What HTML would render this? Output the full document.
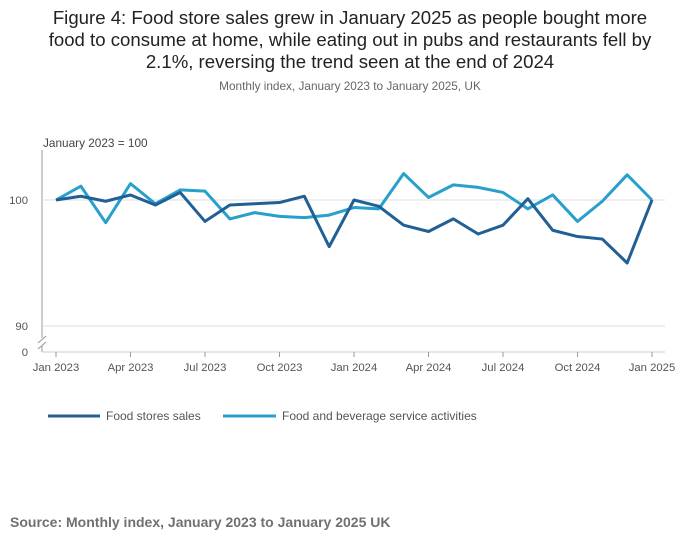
<!DOCTYPE html>
<html><head><meta charset="utf-8"><style>
body{margin:0;background:#fff;font-family:"Liberation Sans",sans-serif;}
svg text{font-family:"Liberation Sans",sans-serif;}
</style></head><body>
<svg id="c" width="700" height="549">
<text x="350" y="24" text-anchor="middle" font-size="18.6" fill="#222">Figure 4: Food store sales grew in January 2025 as people bought more</text>
<text x="350" y="46" text-anchor="middle" font-size="18.6" fill="#222">food to consume at home, while eating out in pubs and restaurants fell by</text>
<text x="350" y="68" text-anchor="middle" font-size="18.6" fill="#222">2.1%, reversing the trend seen at the end of 2024</text>
<text x="350" y="90" text-anchor="middle" font-size="11.8" fill="#666">Monthly index, January 2023 to January 2025, UK</text>
<text x="43" y="147" font-size="11.8" fill="#444">January 2023 = 100</text>
<line x1="42" y1="150" x2="42" y2="338" stroke="#999"/>
<line x1="42" y1="346" x2="42" y2="352" stroke="#999"/>
<line x1="38" y1="343" x2="46" y2="336" stroke="#999"/>
<line x1="38" y1="349" x2="46" y2="342" stroke="#999"/>
<line x1="42" y1="352" x2="665" y2="352" stroke="#ccc"/>
<text x="28" y="356" text-anchor="end" font-size="11.3" fill="#555">0</text>
<g id="grid"></g><g id="xt"></g><g id="lines"></g>
<g>
<line x1="48" y1="416" x2="100" y2="416" stroke="#206095" stroke-width="3"/>
<text x="106" y="420" font-size="12" fill="#555">Food stores sales</text>
<line x1="223" y1="416" x2="276" y2="416" stroke="#27a0cc" stroke-width="3"/>
<text x="282" y="420" font-size="12" fill="#555">Food and beverage service activities</text>
</g>
<text x="10" y="527" font-size="14" font-weight="bold" fill="#707070">Source: Monthly index, January 2023 to January 2025 UK</text>
</svg>
<script>
const months = 25;
const xLabels = ["Jan 2023","Apr 2023","Jul 2023","Oct 2023","Jan 2024","Apr 2024","Jul 2024","Oct 2024","Jan 2025"];
const yTicks = [90,100];
const foodStores = [100,100.3,99.9,100.4,99.6,100.6,98.3,99.6,99.7,99.8,100.3,96.3,100,99.5,98.0,97.5,98.5,97.3,98.0,100.1,97.6,97.1,96.9,95.0,100];
const foodBeverage = [100,101.1,98.2,101.3,99.7,100.8,100.7,98.5,99.0,98.7,98.6,98.8,99.4,99.3,102.1,100.2,101.2,101.0,100.6,99.3,100.4,98.3,99.9,102.0,100];
const NS="http://www.w3.org/2000/svg";
const x = i => 56 + i*(652-56)/(months-1);
const y = v => 200 - (v-100)*12.6;
const g = document.getElementById('grid');
yTicks.forEach(t=>{
  const l=document.createElementNS(NS,'line');
  l.setAttribute('x1',42);l.setAttribute('x2',665);l.setAttribute('y1',y(t));l.setAttribute('y2',y(t));
  l.setAttribute('stroke','#ddd');
  
  
  g.appendChild(l);
  const tx=document.createElementNS(NS,'text');
  tx.setAttribute('x',28);tx.setAttribute('y',y(t)+4);tx.setAttribute('text-anchor','end');
  tx.setAttribute('font-size','11.3');tx.setAttribute('fill','#555');tx.textContent=t;
  
  
  g.appendChild(tx);
});
const xt=document.getElementById('xt');
xLabels.forEach((lab,k)=>{
  const i=k*3;
  const l=document.createElementNS(NS,'line');
  l.setAttribute('x1',x(i));l.setAttribute('x2',x(i));l.setAttribute('y1',352);l.setAttribute('y2',357);
  l.setAttribute('stroke','#999');
  
  
  xt.appendChild(l);
  const tx=document.createElementNS(NS,'text');
  tx.setAttribute('x',x(i));tx.setAttribute('y',371);tx.setAttribute('text-anchor','middle');
  tx.setAttribute('font-size','11.3');tx.setAttribute('fill','#555');tx.textContent=lab;
  
  
  xt.appendChild(tx);
});
const ln=document.getElementById('lines');
[[foodBeverage,'#27a0cc','line-food-beverage'],[foodStores,'#206095','line-food-stores']].forEach(([d,c,n])=>{
  const p=document.createElementNS(NS,'polyline');
  p.setAttribute('points',d.map((v,i)=>x(i)+','+y(v)).join(' '));
  p.setAttribute('fill','none');p.setAttribute('stroke',c);p.setAttribute('stroke-width','3');
  p.setAttribute('stroke-linejoin','round');
  
  
  ln.appendChild(p);
});
</script>
</body></html>
